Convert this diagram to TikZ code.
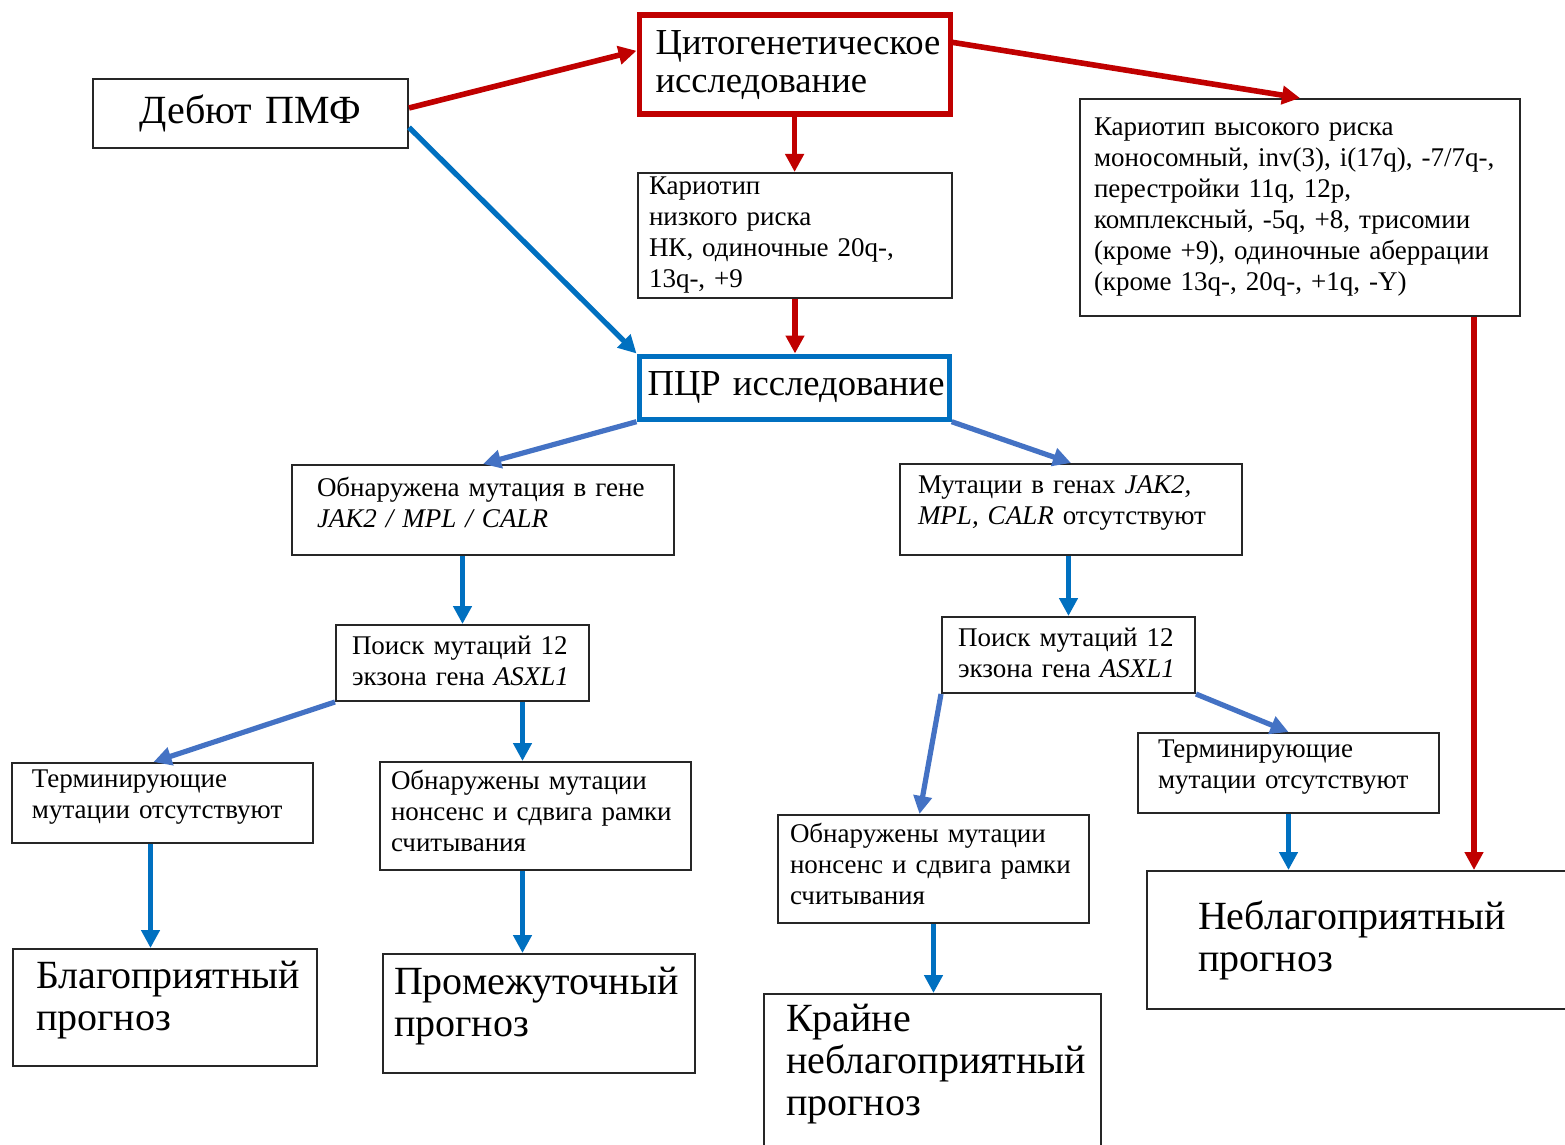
\documentclass[tikz,border=0pt]{standalone}
\usepackage{fontspec}
\setmainfont{Liberation Serif}
\usepackage{tikz}
\usetikzlibrary{arrows.meta}
\definecolor{cytcol}{RGB}{192,0,0}
\definecolor{pcrcol}{RGB}{0,112,192}
\definecolor{brcol}{RGB}{68,114,196}
\newcommand{\smalltxt}{\fontsize{13.5}{15.5}\selectfont}
\newcommand{\midtxt}{\fontsize{18.3}{19}\selectfont}
\newcommand{\bigtxt}{\fontsize{20}{21}\selectfont}
\newcommand{\lowstrut}[1]{\rule[-#1]{0pt}{#1}}

\begin{document}
\begin{tikzpicture}[x=0.5pt,y=-0.5pt,
  box/.style={draw=black!85,line width=1pt,anchor=north west,align=left,inner ysep=2pt,font=\smalltxt},
  cytbox/.style={box,draw=cytcol,line width=2.6pt,font=\midtxt},
  pcrbox/.style={box,draw=pcrcol,line width=2.6pt,font=\midtxt},
  endbox/.style={box,font=\bigtxt},
  redarr/.style={cytcol,line width=2.8pt,-{Triangle[length=9pt,width=9pt]}},
  bluearr/.style={pcrcol,line width=2.6pt,-{Triangle[length=9pt,width=9pt]}},
  brarr/.style={brcol,line width=2.6pt,-{Triangle[length=9pt,width=9pt]}}]
\fill[white] (0,0) rectangle (1565,1145);
\useasboundingbox (0,0) rectangle (1565,1145);

% top row
\node[endbox,align=center,inner xsep=4pt,text width=149.5pt,minimum height=34.5pt] (start) at (92,78) {Дебют ПМФ};
\node[cytbox,inner xsep=8.25pt,text width=139pt,minimum height=49.5pt] (cyto) at (636.5,12.5) {Цитогенетическое\\исследование};
\node[box,inner xsep=5.5pt,text width=146pt,minimum height=62.5pt] (lowrisk) at (637,172) {Кариотип\\низкого риска\\НК, одиночные 20q-,\\13q-, +9};
\node[box,inner xsep=7pt,text width=206pt,minimum height=108.5pt] (highrisk) at (1079,98) {Кариотип высокого риска\\моносомный, inv(3), i(17q), -7/7q-,\\перестройки 11q, 12p,\\комплексный, -5q, +8, трисомии\\(кроме +9), одиночные аберрации\\(кроме 13q-, 20q-, +1q, -Y)};
\node[pcrbox,inner xsep=4.25pt,text width=146.5pt,minimum height=31.5pt] (pcr) at (636.5,353.5) {ПЦР~исследование};

% mutation branches
\node[box,inner xsep=12.5pt,text width=166pt,minimum height=45pt] (jakpos) at (291,464) {Обнаружена мутация в гене\\\textit{JAK2 / MPL / CALR}\lowstrut{7.5pt}};
\node[box,inner xsep=9pt,text width=153pt,minimum height=45.5pt] (jakneg) at (899,463) {Мутации в генах \textit{JAK2,}\\\textit{MPL, CALR} отсутствуют\lowstrut{9pt}};
\node[box,inner xsep=8pt,text width=110.5pt,minimum height=38pt] (asxlL) at (335,624) {Поиск мутаций 12\\экзона гена \textit{ASXL1}\lowstrut{2pt}};
\node[box,inner xsep=8pt,text width=110.5pt,minimum height=38pt] (asxlR) at (941,616) {Поиск мутаций 12\\экзона гена \textit{ASXL1}\lowstrut{2pt}};
\node[box,inner xsep=10pt,text width=130.5pt,minimum height=40pt] (termL) at (11,762) {Терминирующие\\мутации отсутствуют\lowstrut{8.5pt}};
\node[box,inner xsep=5.5pt,text width=144.5pt,minimum height=54pt] (nonsL) at (379,761) {Обнаружены мутации\\нонсенс и сдвига рамки\\считывания\lowstrut{5pt}};
\node[box,inner xsep=10pt,text width=130.5pt,minimum height=40pt] (termR) at (1137,732) {Терминирующие\\мутации отсутствуют\lowstrut{8.5pt}};
\node[box,inner xsep=6pt,text width=143.5pt,minimum height=54pt] (nonsR) at (777,814) {Обнаружены мутации\\нонсенс и сдвига рамки\\считывания\lowstrut{5pt}};

% prognosis
\node[endbox,inner xsep=11.5pt,text width=129pt,minimum height=58.5pt] (favor) at (12,948) {Благоприятный\\прогноз\lowstrut{11.5pt}};
\node[endbox,inner xsep=5.5pt,text width=145pt,minimum height=59.5pt] (inter) at (382,953) {Промежуточный\\прогноз\lowstrut{11.5pt}};
\node[endbox,inner xsep=11pt,text width=146.5pt,minimum height=80pt] (extreme) at (763,993) {Крайне\\неблагоприятный\\прогноз\lowstrut{14.4pt}};
\node[endbox,inner xsep=25.5pt,text width=169pt,minimum height=69pt] (unfav) at (1146,870) {Неблагоприятный\\прогноз};

\coordinate (hr) at ([xshift=-23.5pt]highrisk.south east);
\coordinate (nl) at ([xshift=30pt]asxlL.south);
\coordinate (il) at ([xshift=-6.5pt]nonsL.south);
\coordinate (fl) at ([xshift=-6pt]termL.south);

% cytogenetics
\draw[redarr] (start.2) -- (cyto.175);
\draw[redarr] (cyto.8) -- (highrisk.north);
\draw[redarr] (cyto.south) -- (cyto.south |- lowrisk.north);
\draw[redarr] (lowrisk.south) -- (lowrisk.south |- pcr.north);
\draw[redarr] (hr) -- (hr |- unfav.north);

% pcr
\draw[bluearr] (start.-5) -- (pcr.north west);
\draw[brarr] (pcr.south west) -- (jakpos.north);
\draw[brarr] (pcr.south east) -- (jakneg.north);
\draw[bluearr] (asxlL.north |- jakpos.south) -- (asxlL.north);
\draw[bluearr] (asxlR.north |- jakneg.south) -- (asxlR.north);
\draw[brarr] (asxlL.south west) -- ([xshift=-4.5pt]termL.north);
\draw[bluearr] (nl) -- (nl |- nonsL.north);
\draw[brarr] (asxlR.south west) -- ([xshift=-7pt]nonsR.north);
\draw[brarr] (asxlR.south east) -- (termR.north);
\draw[bluearr] (fl) -- (fl |- favor.north);
\draw[bluearr] (il) -- (il |- inter.north);
\draw[bluearr] (nonsR.south) -- (nonsR.south |- extreme.north);
\draw[bluearr] (termR.south) -- (termR.south |- unfav.north);
\end{tikzpicture}
\end{document}
